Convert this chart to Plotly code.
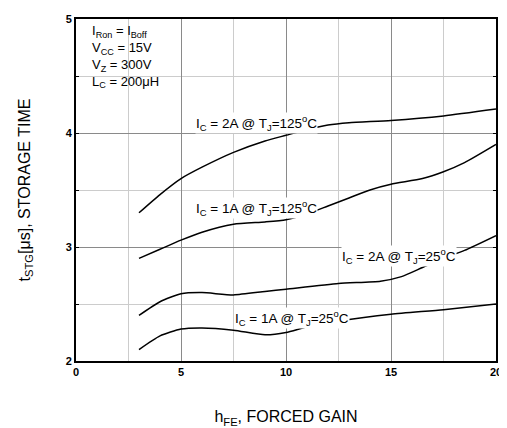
import plotly.graph_objects as go

# Forced gain (x) and storage time (y) for each curve
x_2a_125 = [3, 4, 5, 6, 7.5, 9, 10, 11, 12, 13, 15, 17.5, 20]
y_2a_125 = [3.30, 3.46, 3.60, 3.70, 3.83, 3.93, 3.98, 4.03, 4.07, 4.09, 4.11, 4.15, 4.21]

x_1a_125 = [3, 4, 5, 6, 7.5, 9, 10, 11, 12, 13, 14, 15, 16.5, 17.5, 18.5, 20]
y_1a_125 = [2.90, 2.98, 3.06, 3.13, 3.20, 3.22, 3.24, 3.29, 3.36, 3.43, 3.50, 3.55, 3.60, 3.66, 3.74, 3.90]

x_2a_25 = [3, 4, 5, 6, 7.5, 9, 10, 12.5, 14.5, 15.5, 16.5, 17.5, 18.5, 20]
y_2a_25 = [2.40, 2.52, 2.59, 2.60, 2.58, 2.61, 2.63, 2.68, 2.70, 2.74, 2.82, 2.90, 2.97, 3.10]

x_1a_25 = [3, 4, 5, 6, 7.5, 9, 10, 11, 12.5, 15, 17.5, 20]
y_1a_25 = [2.10, 2.22, 2.28, 2.29, 2.27, 2.23, 2.25, 2.30, 2.35, 2.41, 2.45, 2.50]

curve_labels = [
    "I<sub>C</sub> = 2A @ T<sub>J</sub>=125<sup>o</sup>C",
    "I<sub>C</sub> = 1A @ T<sub>J</sub>=125<sup>o</sup>C",
    "I<sub>C</sub> = 2A @ T<sub>J</sub>=25<sup>o</sup>C",
    "I<sub>C</sub> = 1A @ T<sub>J</sub>=25<sup>o</sup>C",
]
label_x = [8.6, 8.6, 15.4, 10.3]
label_y = [4.09, 3.34, 2.92, 2.38]

conditions = "I<sub>Ron</sub> = I<sub>Boff</sub><br>V<sub>CC</sub> = 15V<br>V<sub>Z</sub> = 300V<br>L<sub>C</sub> = 200μH"

FONT = "Liberation Sans, Arial, sans-serif"

fig = go.Figure()
for xs, ys in [(x_2a_125, y_2a_125), (x_1a_125, y_1a_125), (x_2a_25, y_2a_25), (x_1a_25, y_1a_25)]:
    fig.add_trace(go.Scatter(x=xs, y=ys, mode="lines",
                             line=dict(color="black", width=1.5, shape="spline", smoothing=0.6),
                             showlegend=False, hoverinfo="skip"))

for txt, lx, ly in zip(curve_labels, label_x, label_y):
    fig.add_annotation(x=lx, y=ly, text=txt, showarrow=False, bgcolor="white",
                       borderpad=0, font=dict(family=FONT, size=13.5, color="black"))

fig.add_annotation(x=0.033, y=0.993, xref="paper", yref="paper", xanchor="left", yanchor="top",
                   text=conditions, showarrow=False, align="left",
                   font=dict(family=FONT, size=13, color="black"))

fig.update_layout(
    width=499, height=420,
    margin=dict(l=68, r=5, t=7, b=67),
    paper_bgcolor="white", plot_bgcolor="white",
    font=dict(family=FONT, color="black"),
    xaxis=dict(range=[0, 20], dtick=5, showgrid=True, gridcolor="#8a8a8a", gridwidth=1,
               minor=dict(dtick=2.5, showgrid=True, gridcolor="#cccccc", gridwidth=1),
               showline=True, linecolor="black", linewidth=2, mirror=True,
               zeroline=False, ticks="", tickfont=dict(family=FONT, size=11, color="black", weight="bold"),
               title=dict(text="h<sub>FE</sub>, FORCED GAIN", font=dict(family=FONT, size=16), standoff=34)),
    yaxis=dict(range=[2, 5], dtick=1, showgrid=True, gridcolor="#8a8a8a", gridwidth=1,
               minor=dict(dtick=0.5, showgrid=True, gridcolor="#cccccc", gridwidth=1,
                          ticks="inside", ticklen=3, tickcolor="black"),
               showline=True, linecolor="black", linewidth=2, mirror="ticks",
               zeroline=False, ticks="inside", ticklen=3, tickcolor="black",
               tickfont=dict(family=FONT, size=11, color="black", weight="bold"),
               title=dict(text="t<sub>STG</sub>[μs], STORAGE TIME", font=dict(family=FONT, size=16), standoff=31)),
)

fig.write_html("out.html")
